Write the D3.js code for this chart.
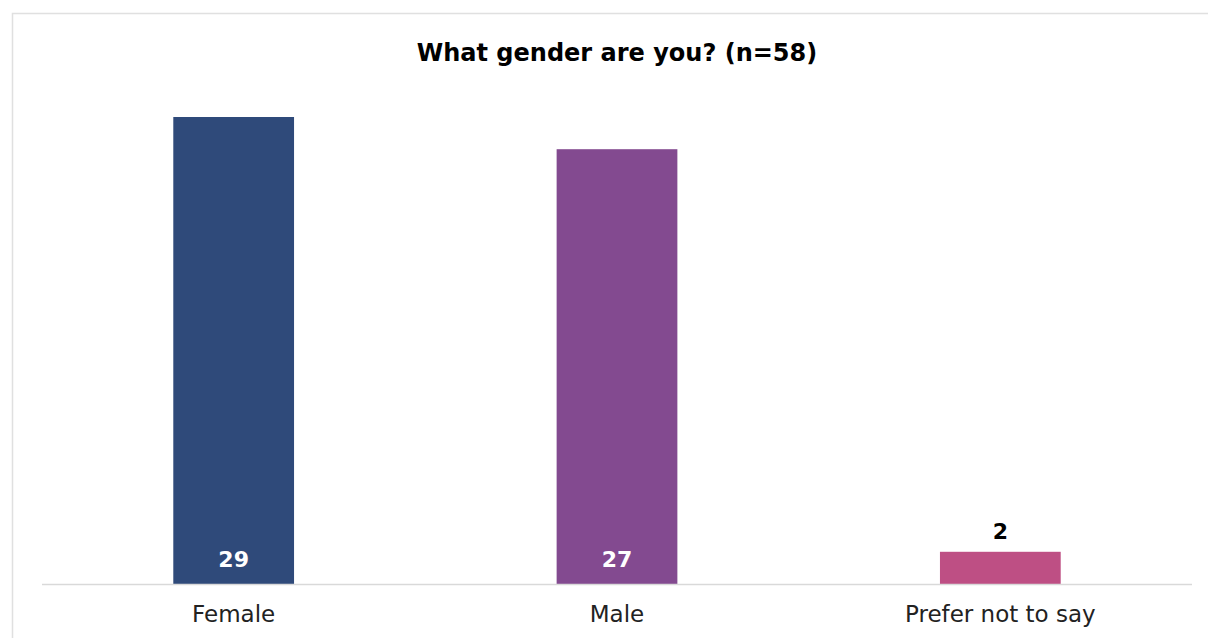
<!DOCTYPE html>
<html>
<head>
<meta charset="utf-8">
<script src="https://cdn.jsdelivr.net/npm/d3@7"></script>
<style>
body { margin: 0; background: #fff; }
svg { display: block; font-family: "DejaVu Sans", sans-serif; }
</style>
</head>
<body>
<div id="chart"></div>
<script>
var categories = ["Female", "Male", "Prefer not to say"];
var counts = [29, 27, 2];
var barColors = ["#2f4a7a", "#834a90", "#be4f84"];
var mainTitle = "What gender are you? (n=58)";

var w = 1208, h = 638;
var margin = {left: 42, right: 16, top: 117, bottom: 54};

var svg = d3.select("#chart").append("svg")
	.attr("width", w)
	.attr("height", h);

// chart frame (cut off on right and bottom like the original)
svg.append("rect")
	.attr("x", 12.5).attr("y", 13.5)
	.attr("width", w).attr("height", h)
	.attr("fill", "none")
	.attr("stroke", "#e0e0e0")
	.attr("stroke-width", 1.5);

var x = d3.scaleBand()
	.domain(categories)
	.range([margin.left, w - margin.right])
	.paddingInner(0.685)
	.paddingOuter(0.3425);

var y = d3.scaleLinear()
	.domain([0, 29])
	.range([h - margin.bottom, margin.top]);

var data = categories.map(function(c, i) { return {name: c, value: counts[i], color: barColors[i]}; });

svg.selectAll(".bar")
	.data(data).enter()
	.append("rect")
	.attr("class", "bar")
	.attr("x", function(d) { return x(d.name); })
	.attr("y", function(d) { return y(d.value); })
	.attr("width", x.bandwidth())
	.attr("height", function(d) { return y(0) - y(d.value); })
	.attr("fill", function(d) { return d.color; });

// baseline
svg.append("line")
	.attr("x1", margin.left).attr("x2", w - margin.right)
	.attr("y1", y(0) + 0.5).attr("y2", y(0) + 0.5)
	.attr("stroke", "#d9d9d9")
	.attr("stroke-width", 1.5);

// value labels: inside tall bars, above short ones
svg.selectAll(".val")
	.data(data).enter()
	.append("text")
	.attr("class", "val")
	.attr("x", function(d) { return x(d.name) + x.bandwidth() / 2; })
	.attr("y", function(d) { return d.value > 5 ? y(0) - 17 : y(d.value) - 13; })
	.attr("text-anchor", "middle")
	.attr("font-size", 22)
	.attr("font-weight", "bold")
	.attr("fill", function(d) { return d.value > 5 ? "#fff" : "#000"; })
	.text(function(d) { return d.value; });

// category labels
var xAxis = d3.axisBottom(x).tickSize(0).tickPadding(22);
var gx = svg.append("g")
	.attr("transform", "translate(0," + y(0) + ")")
	.call(xAxis);
gx.select(".domain").remove();
gx.selectAll("text")
	.attr("font-size", 23)
	.attr("font-family", "'DejaVu Sans', sans-serif")
	.attr("fill", "#222");

svg.append("text")
	.attr("x", (margin.left + w - margin.right) / 2)
	.attr("y", 61)
	.attr("text-anchor", "middle")
	.attr("font-size", 24)
	.attr("font-weight", "bold")
	.attr("fill", "#000")
	.text(mainTitle);
</script>
</body>
</html>
